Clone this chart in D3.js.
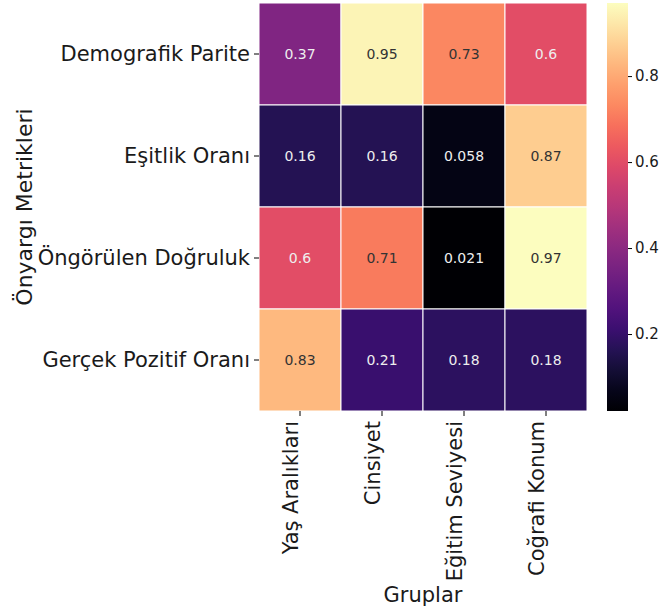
<!DOCTYPE html>
<html>
<head>
<meta charset="utf-8">
<script src="https://cdn.jsdelivr.net/npm/d3@7"></script>
<style>
body { margin: 0; background: #fff; }
text { font-family: "DejaVu Sans", sans-serif; }
</style>
</head>
<body>
<svg id="main_svg" width="660" height="611"></svg>
<script>
const groups = ["Yaş Aralıkları", "Cinsiyet", "Eğitim Seviyesi", "Coğrafi Konum"]
const metrics = ["Demografik Parite", "Eşitlik Oranı", "Öngörülen Doğruluk", "Gerçek Pozitif Oranı"]
const values = [
    [0.37, 0.95, 0.73, 0.6],
    [0.16, 0.16, 0.058, 0.87],
    [0.6, 0.71, 0.021, 0.97],
    [0.83, 0.21, 0.18, 0.18]
]
const labels = [
    ["0.37", "0.95", "0.73", "0.6"],
    ["0.16", "0.16", "0.058", "0.87"],
    ["0.6", "0.71", "0.021", "0.97"],
    ["0.83", "0.21", "0.18", "0.18"]
]
const cbar_ticks = [0.2, 0.4, 0.6, 0.8]

const svg = d3.select("#main_svg")
const m_left = 259, m_right = 587, m_top = 3, m_bottom = 411

const x = d3.scaleBand().domain(groups).range([m_left, m_right])
const y = d3.scaleBand().domain(metrics).range([m_top, m_bottom])
const vmin = d3.min(values.flat()), vmax = d3.max(values.flat())
const color = d3.scaleSequential(d3.interpolateMagma).domain([vmin, vmax])

let cells = []
metrics.forEach((m, i) => groups.forEach((g, j) => cells.push({m: m, g: g, v: values[i][j], t: labels[i][j]})))

svg.selectAll("rect.cell")
    .data(cells)
    .enter()
    .append("rect")
    .attr("class", "cell")
    .attr("x", d => x(d.g))
    .attr("y", d => y(d.m))
    .attr("width", x.bandwidth())
    .attr("height", y.bandwidth())
    .attr("fill", d => color(d.v))
    .attr("stroke", "white")
    .attr("stroke-width", 1)

svg.selectAll("text.annot")
    .data(cells)
    .enter()
    .append("text")
    .attr("class", "annot")
    .attr("x", d => x(d.g) + x.bandwidth() / 2)
    .attr("y", d => y(d.m) + y.bandwidth() / 2)
    .attr("text-anchor", "middle")
    .attr("dominant-baseline", "central")
    .attr("font-size", 14)
    .attr("fill", d => d3.hsl(color(d.v)).l > 0.6 ? "#333333" : "#eeeeee")
    .text(d => d.t)

// axes
const yAxis = svg.append("g")
    .attr("transform", "translate(" + m_left + ",0)")
    .call(d3.axisLeft(y).tickSize(5).tickPadding(4))
yAxis.select(".domain").remove()
yAxis.selectAll("text").attr("font-size", 21).attr("fill", "#1a1a1a")

const xAxis = svg.append("g")
    .attr("transform", "translate(0," + m_bottom + ")")
    .call(d3.axisBottom(x).tickSize(5).tickPadding(4))
xAxis.select(".domain").remove()
xAxis.selectAll("text")
    .attr("font-size", 21)
    .attr("fill", "#1a1a1a")
    .attr("text-anchor", "end")
    .attr("dy", "0.35em")
    .attr("transform", "rotate(-90) translate(-10,-9)")
    .attr("x", 0).attr("y", 0)

svg.append("text")
    .attr("x", (m_left + m_right) / 2)
    .attr("y", 602)
    .attr("text-anchor", "middle")
    .attr("font-size", 21)
    .attr("fill", "#1a1a1a")
    .text("Gruplar")

svg.append("text")
    .attr("transform", "translate(32," + ((m_top + m_bottom) / 2) + ") rotate(-90)")
    .attr("text-anchor", "middle")
    .attr("font-size", 22)
    .attr("fill", "#1a1a1a")
    .text("Önyargı Metrikleri")

// colorbar
const cb_x = 607, cb_w = 21
const cy = d3.scaleLinear().domain([vmin, vmax]).range([m_bottom, m_top])
const defs = svg.append("defs")
const grad = defs.append("linearGradient")
    .attr("id", "cbar")
    .attr("x1", "0").attr("y1", "1").attr("x2", "0").attr("y2", "0")
d3.range(0, 1.001, 0.05).forEach(t => {
    grad.append("stop").attr("offset", t).attr("stop-color", d3.interpolateMagma(t))
})
svg.append("rect")
    .attr("x", cb_x).attr("y", m_top)
    .attr("width", cb_w).attr("height", m_bottom - m_top)
    .attr("fill", "url(#cbar)")

const cAxis = svg.append("g")
    .attr("transform", "translate(" + (cb_x + cb_w) + ",0)")
    .call(d3.axisRight(cy).tickValues(cbar_ticks).tickFormat(d3.format(".1f")).tickSize(4).tickPadding(3))
cAxis.select(".domain").remove()
cAxis.selectAll("text").attr("font-size", 15).attr("fill", "#1a1a1a")
</script>
</body>
</html>
